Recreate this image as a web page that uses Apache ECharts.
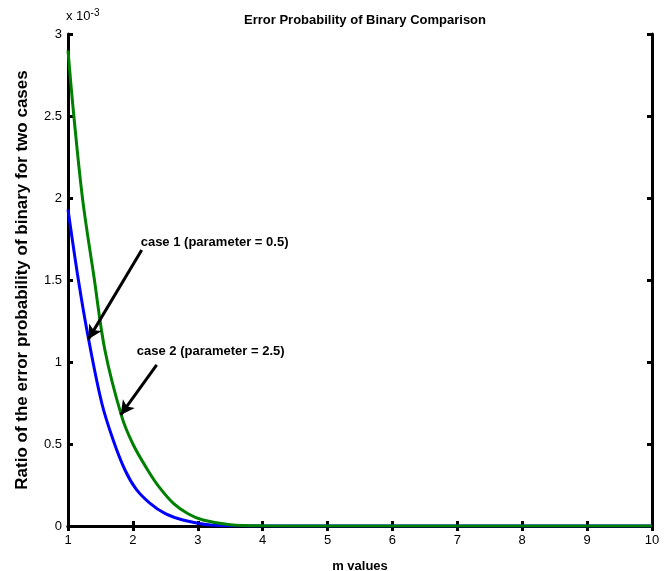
<!DOCTYPE html>
<html>
<head>
<meta charset="utf-8">
<script src="https://cdn.jsdelivr.net/npm/echarts@6/dist/echarts.min.js"></script>
<style>
  html, body { margin: 0; padding: 0; background: #fff; }
  #chart { width: 671px; height: 571px; }
</style>
</head>
<body>
<div id="chart"></div>
<script>
// case 1 (parameter = 0.5), blue curve
var case1M = [1.00, 1.16, 1.31, 1.52, 1.70, 1.88, 2.05, 2.26, 2.50, 2.77, 3.20, 3.60, 4.00, 5, 6, 7, 8, 9, 10];
var case1V = [1.93e-3, 1.50e-3, 1.154e-3, 0.75e-3, 0.52e-3, 0.34e-3, 0.225e-3, 0.14e-3, 0.075e-3, 0.037e-3, 0.006e-3, 0.001e-3, 0, 0, 0, 0, 0, 0, 0];

// case 2 (parameter = 2.5), green curve
var case2M = [1.00, 1.09, 1.226, 1.40, 1.57, 1.83, 2.00, 2.23, 2.40, 2.62, 2.85, 3.08, 3.50, 4.00, 5, 6, 7, 8, 9, 10];
var case2V = [2.90e-3, 2.50e-3, 1.99e-3, 1.52e-3, 1.07e-3, 0.665e-3, 0.50e-3, 0.34e-3, 0.24e-3, 0.14e-3, 0.075e-3, 0.037e-3, 0.008e-3, 0.001e-3, 0, 0, 0, 0, 0, 0];

// annotations: text anchor and arrow [tail, head] in data coords
var labels = ['case 1 (parameter = 0.5)', 'case 2 (parameter = 2.5)'];
var labelPos = [[2.12, 1.73e-3], [2.06, 1.067e-3]];
var arrows = [
  [[2.136, 1.683e-3], [1.313, 1.138e-3]],
  [[2.367, 0.982e-3], [1.812, 0.677e-3]]
];

function pairs(xs, ys) {
  return xs.map(function (x, i) { return [x, ys[i]]; });
}

var chart = echarts.init(document.getElementById('chart'));
var font = 'Liberation Sans, Arial, sans-serif';

var axisLine = { lineStyle: { color: '#000', width: 3 } };
var axisTick = { inside: true, length: 5, lineStyle: { color: '#000', width: 3 } };

var option = {
  backgroundColor: '#fff',
  animation: false,
  title: {
    text: 'Error Probability of Binary Comparison',
    left: 360, top: 9, textAlign: 'center',
    textStyle: { fontFamily: font, fontSize: 13, fontWeight: 'bold', color: '#000' }
  },
  graphic: [{
    type: 'text', left: 66, top: 8,
    style: {
      text: 'x 10{s|-3}',
      font: '13px ' + font, fill: '#000',
      rich: { s: { fontSize: 10, fontFamily: font, verticalAlign: 'top', padding: [0, 0, 6, 0] } }
    }
  }],
  grid: { left: 68, right: 19, top: 34, bottom: 45, containLabel: false, outerBoundsMode: 'none' },
  xAxis: [{
    type: 'value', min: 1, max: 10, interval: 1,
    name: 'm values', nameLocation: 'middle', nameGap: 34,
    nameTextStyle: { fontFamily: font, fontSize: 13, fontWeight: 'bold', color: '#000' },
    axisLine: axisLine, axisTick: axisTick,
    axisLabel: { fontFamily: font, fontSize: 13, color: '#000', margin: 8 },
    splitLine: { show: false }
  }, {
    type: 'value', position: 'top', min: 1, max: 10, interval: 1,
    axisLine: axisLine, axisTick: axisTick,
    axisLabel: { show: false }, splitLine: { show: false }
  }],
  yAxis: [{
    type: 'value', min: 0, max: 0.003, interval: 0.0005,
    name: 'Ratio of the error probability of binary for two cases',
    nameLocation: 'middle', nameGap: 37, nameRotate: 90,
    nameTextStyle: { fontFamily: font, fontSize: 17, fontWeight: 'bold', color: '#000' },
    axisLine: axisLine, axisTick: axisTick,
    axisLabel: {
      fontFamily: font, fontSize: 13, color: '#000', margin: 6,
      formatter: function (v) { return String(+(v * 1000).toFixed(1)); }
    },
    splitLine: { show: false }
  }, {
    type: 'value', position: 'right', min: 0, max: 0.003, interval: 0.0005,
    axisLine: axisLine, axisTick: axisTick,
    axisLabel: { show: false }, splitLine: { show: false }
  }],
  series: [{
    name: 'case 1', type: 'line', smooth: 0.35, symbol: 'none',
    data: pairs(case1M, case1V),
    lineStyle: { color: '#0000ff', width: 3 },
    z: 3
  }, {
    name: 'case 2', type: 'line', smooth: 0.35, symbol: 'none',
    data: pairs(case2M, case2V),
    lineStyle: { color: '#008000', width: 3 },
    z: 4,
    markLine: {
      silent: true, symbol: ['none', 'arrow'], symbolSize: [11, 14],
      lineStyle: { color: '#000', width: 3, type: 'solid' },
      label: { show: false },
      data: arrows.map(function (a) { return [{ coord: a[0] }, { coord: a[1] }]; })
    },
    markPoint: {
      silent: true, symbol: 'circle', symbolSize: 0,
      label: {
        show: true, position: 'right', distance: 0,
        fontFamily: font, fontSize: 13, fontWeight: 'bold', color: '#000',
        formatter: function (p) { return p.name; }
      },
      data: labels.map(function (t, i) { return { name: t, coord: labelPos[i] }; })
    }
  }]
};

chart.setOption(option);
</script>
</body>
</html>
